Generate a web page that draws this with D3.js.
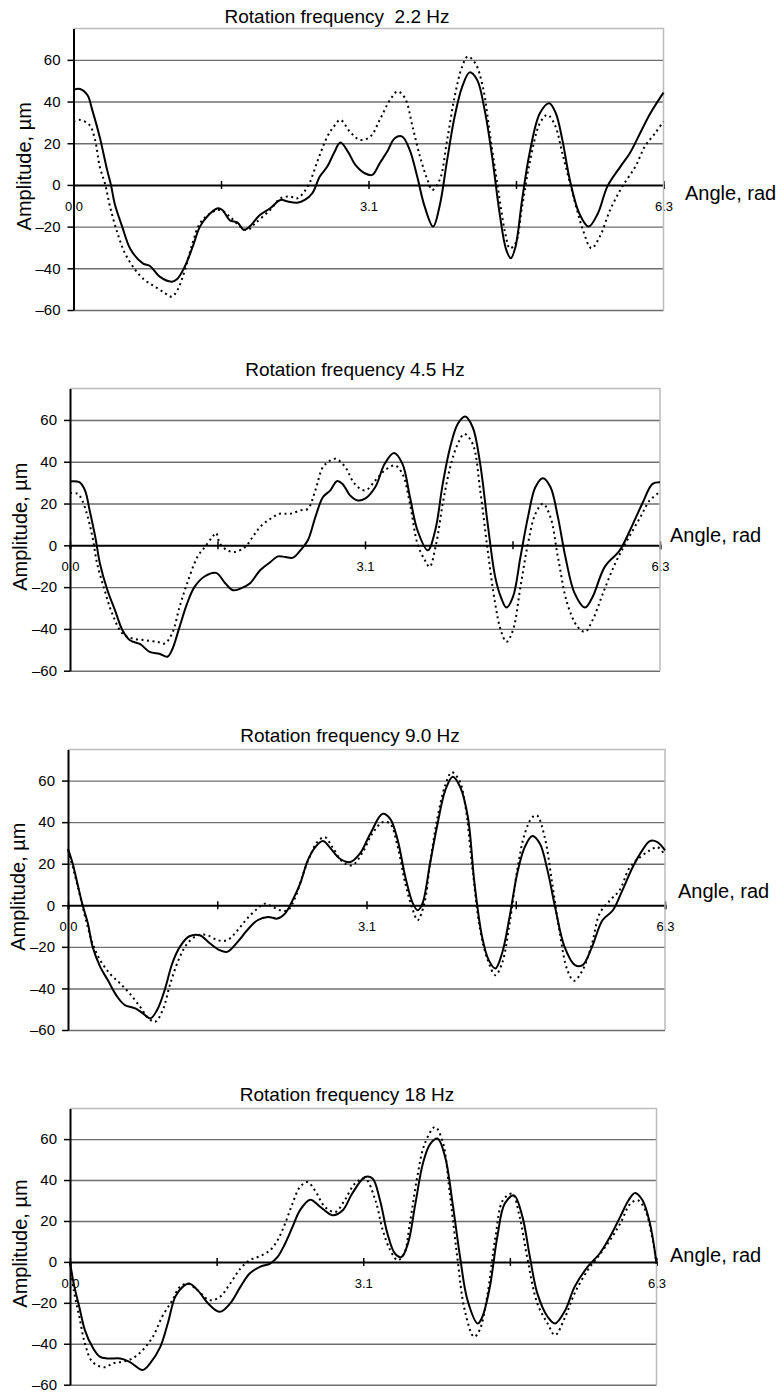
<!DOCTYPE html>
<html>
<head>
<meta charset="utf-8">
<script src="https://cdn.jsdelivr.net/npm/d3@7"></script>
<style>
  body { margin: 0; background: #fff; }
  svg { display: block; }
  text { font-family: "Liberation Sans", Arial, sans-serif; fill: #000; }
</style>
</head>
<body>
<svg id="chart" width="784" height="1393"></svg>
<script>
// [angle (rad), amplitude (um)], one solid and one dotted trace per panel
const solid22 = [[0.00,45.6],[0.07,46],[0.15,43],[0.20,36],[0.28,23],[0.36,7],[0.40,0],[0.44,-9],[0.52,-20],[0.61,-31],[0.74,-37.6],[0.82,-39],[0.92,-44],[1.05,-46.4],[1.11,-45],[1.19,-39],[1.27,-30],[1.35,-20],[1.43,-15],[1.54,-11.2],[1.59,-12],[1.67,-17],[1.75,-18],[1.82,-21.6],[1.88,-20],[1.99,-14.4],[2.10,-11.2],[2.21,-7.2],[2.29,-8],[2.39,-8.5],[2.47,-7.2],[2.55,-4],[2.63,4],[2.71,8.8],[2.78,15.2],[2.85,20.3],[2.93,16],[3.01,9.6],[3.11,5.6],[3.19,4.8],[3.27,10.4],[3.35,16],[3.43,22.4],[3.51,23.2],[3.59,16.8],[3.67,4],[3.75,-10.4],[3.84,-20],[3.91,-10],[3.99,12],[4.07,32.8],[4.15,47],[4.23,54],[4.31,50.4],[4.39,36],[4.47,13.6],[4.55,-13.6],[4.62,-31],[4.67,-35.2],[4.72,-29.6],[4.79,-7.2],[4.87,15.2],[4.98,34.4],[5.08,39.2],[5.15,34.4],[5.22,21.6],[5.30,2.4],[5.40,-13.6],[5.50,-20],[5.60,-13.6],[5.70,-0.8],[5.84,8.8],[5.94,15.2],[6.05,24.8],[6.16,34.4],[6.30,44.3]];
const dotted22 = [[0.00,30.4],[0.07,31.2],[0.17,28.8],[0.23,21.6],[0.28,8.8],[0.34,0],[0.39,-10.4],[0.47,-23.2],[0.55,-32.8],[0.66,-40.8],[0.76,-45.6],[0.87,-48.8],[0.98,-52],[1.05,-53.6],[1.11,-50.4],[1.19,-40.8],[1.27,-28],[1.35,-18.4],[1.46,-13.6],[1.56,-12],[1.67,-15.2],[1.78,-20],[1.86,-21.6],[1.94,-18.4],[2.10,-12],[2.21,-6.4],[2.31,-5.6],[2.39,-6.4],[2.50,-0.8],[2.61,12],[2.71,23.2],[2.78,28],[2.85,31.2],[2.95,25.6],[3.06,21.6],[3.17,23.2],[3.27,31.2],[3.38,40.8],[3.46,44.8],[3.54,41.6],[3.62,28],[3.70,13.6],[3.78,2.4],[3.83,-2.4],[3.91,2.4],[3.99,21.6],[4.07,42.4],[4.15,56.8],[4.21,61.6],[4.29,58.4],[4.37,47.2],[4.45,23.2],[4.53,-0.8],[4.61,-23.2],[4.66,-30.4],[4.72,-28],[4.79,-10.4],[4.87,10.4],[4.98,29.6],[5.06,33.6],[5.14,28.8],[5.22,15.2],[5.33,-4],[5.44,-21.6],[5.53,-30.4],[5.62,-24.8],[5.73,-12],[5.86,-0.8],[6.00,8.8],[6.10,18.4],[6.21,24.8],[6.30,30.4]];

const solid45 = [[0,30.6],[0.10,30.2],[0.16,26.3],[0.21,16.7],[0.27,4],[0.32,-8.8],[0.40,-21.5],[0.48,-31],[0.56,-40.6],[0.64,-45.4],[0.75,-47.3],[0.85,-51],[0.96,-52],[1.04,-53.3],[1.09,-50],[1.17,-39],[1.25,-27.9],[1.33,-19.9],[1.44,-14.8],[1.56,-13.2],[1.66,-18.3],[1.74,-21.5],[1.82,-20.7],[1.92,-18.3],[2.03,-11.9],[2.14,-8],[2.22,-5.3],[2.30,-5.6],[2.38,-5.9],[2.46,-2.4],[2.54,2.4],[2.62,13.5],[2.70,23],[2.78,26.3],[2.85,30.7],[2.91,29.4],[2.99,23.9],[3.07,21.5],[3.15,22.3],[3.26,27.9],[3.36,39],[3.46,44.2],[3.55,39],[3.63,23.1],[3.71,7.2],[3.82,-2.4],[3.90,7.2],[3.98,29.4],[4.06,47],[4.14,58.1],[4.22,61.6],[4.30,56.5],[4.38,39],[4.46,10.3],[4.54,-15.1],[4.60,-24.7],[4.66,-29.8],[4.73,-24.7],[4.81,-5.6],[4.89,13.5],[4.97,27.9],[5.05,32.1],[5.13,27.9],[5.21,13.5],[5.29,-5.6],[5.39,-23.1],[5.50,-29.8],[5.58,-24.7],[5.71,-10.3],[5.87,-2.4],[5.98,7.2],[6.11,19.9],[6.22,29.4],[6.30,30.2]];
const dotted45 = [[0,25],[0.08,24.7],[0.13,21.5],[0.19,13.5],[0.24,4],[0.29,-8.8],[0.37,-21.5],[0.45,-32.6],[0.56,-42.2],[0.67,-44.6],[0.80,-45.4],[0.93,-46.2],[1.01,-47],[1.09,-42.2],[1.17,-29.4],[1.25,-18.3],[1.36,-5.6],[1.44,-0.8],[1.52,4],[1.56,5.9],[1.60,0.8],[1.68,-2.4],[1.76,-3.2],[1.87,-0.8],[1.95,4],[2.03,8.8],[2.14,12.7],[2.24,15.1],[2.35,15.1],[2.46,16.7],[2.54,17.5],[2.62,26.3],[2.70,37.4],[2.78,40.6],[2.84,41.4],[2.94,37.4],[3.04,29.4],[3.15,26.3],[3.26,31],[3.36,35.8],[3.47,38.2],[3.55,34.2],[3.63,19.9],[3.71,0.8],[3.79,-7.2],[3.84,-10.3],[3.91,0.8],[3.98,19.9],[4.06,37.4],[4.14,48.5],[4.21,53.3],[4.30,48.5],[4.38,26.3],[4.46,-2.4],[4.54,-27.9],[4.60,-40.6],[4.66,-46.2],[4.73,-40.6],[4.81,-19.9],[4.89,0.8],[4.97,15.1],[5.05,19.9],[5.13,13.5],[5.21,-5.6],[5.31,-27.9],[5.42,-39],[5.50,-41.4],[5.58,-35.8],[5.69,-23.1],[5.82,-8.8],[5.95,2.4],[6.09,13.5],[6.19,21.5],[6.30,25.5]];

const solid90 = [[0,27.2],[0.05,20],[0.10,10.4],[0.15,0.8],[0.21,-8.8],[0.26,-20],[0.34,-29.6],[0.42,-36],[0.52,-44],[0.60,-48],[0.71,-49.6],[0.79,-52],[0.87,-54.4],[0.94,-50.4],[1.02,-40.8],[1.10,-28],[1.18,-20],[1.28,-14.9],[1.39,-14.4],[1.50,-18.4],[1.60,-21.6],[1.68,-22.4],[1.79,-17.6],[1.89,-12],[2.00,-7.2],[2.11,-5.6],[2.21,-6.4],[2.29,-4],[2.37,2.4],[2.45,10.4],[2.53,21.6],[2.61,28],[2.69,30.9],[2.76,28],[2.87,22.4],[2.98,20.8],[3.08,24.8],[3.19,34.4],[3.32,44],[3.40,41.6],[3.48,31.2],[3.56,13.6],[3.64,0.8],[3.69,-2.4],[3.74,0.8],[3.82,20],[3.90,39.2],[3.98,55.2],[4.06,61.9],[4.14,56.8],[4.22,42.4],[4.29,10.4],[4.37,-15.2],[4.44,-26.4],[4.51,-30.4],[4.58,-23.2],[4.66,-5.6],[4.74,15.2],[4.82,28],[4.90,33.3],[4.98,29.6],[5.06,16.8],[5.14,-0.8],[5.24,-20],[5.35,-28.8],[5.43,-28.8],[5.53,-20],[5.64,-7.2],[5.75,-2.4],[5.85,7.2],[5.96,18.4],[6.06,26.4],[6.14,30.9],[6.22,30.4],[6.30,26.4]];
const dotted90 = [[0,26.4],[0.06,16.8],[0.13,4],[0.19,-7.2],[0.26,-18.4],[0.34,-26.4],[0.44,-32.8],[0.55,-37.6],[0.65,-42.4],[0.76,-48.8],[0.85,-54.4],[0.92,-56],[1.00,-50.4],[1.08,-37.6],[1.18,-24.8],[1.26,-18.4],[1.37,-14.4],[1.47,-14.4],[1.58,-16.8],[1.68,-16.8],[1.79,-12],[1.89,-6.4],[2.00,-1.6],[2.08,0.8],[2.16,-0.8],[2.24,-2.4],[2.32,-2.4],[2.40,4],[2.47,13.6],[2.55,23.2],[2.63,30.4],[2.71,32.8],[2.79,28],[2.90,20.8],[3.00,19.2],[3.11,25.6],[3.21,34.4],[3.32,40],[3.40,39.2],[3.48,28],[3.56,10.4],[3.64,-2.4],[3.69,-7.2],[3.76,0.8],[3.82,20],[3.90,42.4],[3.98,57.6],[4.05,64],[4.13,60],[4.19,48.8],[4.27,16.8],[4.35,-12],[4.43,-26.4],[4.51,-33.6],[4.58,-28],[4.66,-8.8],[4.74,16.8],[4.82,34.4],[4.90,42.4],[4.95,43.2],[5.03,32.8],[5.11,10.4],[5.19,-13.6],[5.27,-31.2],[5.34,-36.3],[5.43,-31.2],[5.53,-18.4],[5.61,-4],[5.72,2.4],[5.82,7.2],[5.93,18.4],[6.04,23.2],[6.14,26.4],[6.22,28],[6.30,24]];

const solid18 = [[0,0],[0.04,-10.6],[0.10,-22],[0.16,-33.3],[0.24,-41.5],[0.32,-46.3],[0.40,-47.2],[0.54,-47.2],[0.64,-48.8],[0.78,-52.8],[0.86,-49.6],[0.97,-41.5],[1.05,-30.1],[1.13,-17.1],[1.21,-12.2],[1.28,-10.6],[1.37,-13.8],[1.50,-21.1],[1.61,-24.4],[1.72,-20.3],[1.83,-12.2],[1.93,-5.7],[2.04,-2.4],[2.15,-0.8],[2.23,2.4],[2.31,8.9],[2.39,17.1],[2.47,25.2],[2.58,30.4],[2.69,26.8],[2.82,22.8],[2.93,25.2],[3.03,33.3],[3.17,41.5],[3.25,40.7],[3.33,30.1],[3.41,13.8],[3.49,4.1],[3.56,2.4],[3.63,8.9],[3.71,28.5],[3.79,48],[3.87,57.7],[3.95,60.2],[4.03,51.2],[4.11,28.5],[4.19,2.4],[4.27,-18.7],[4.38,-30.1],[4.43,-26.8],[4.51,-12.2],[4.59,12.2],[4.67,28.5],[4.77,32.5],[4.86,22],[4.94,2.4],[5.02,-15.4],[5.13,-26.8],[5.21,-30.1],[5.32,-23.6],[5.42,-12.2],[5.56,-2.4],[5.69,4.1],[5.80,12.2],[5.91,22],[6.00,30.1],[6.07,33.7],[6.15,30.1],[6.23,18.7],[6.30,-0.8]];
const dotted18 = [[0,0],[0.04,-13.8],[0.10,-26.8],[0.16,-39.8],[0.24,-48.8],[0.37,-51.5],[0.46,-49.6],[0.56,-48.8],[0.67,-47.2],[0.78,-43.1],[0.89,-36.6],[0.99,-26.8],[1.10,-18.7],[1.18,-12.2],[1.26,-10.6],[1.37,-13.8],[1.50,-18.7],[1.61,-17.1],[1.72,-10.6],[1.83,-3.3],[1.93,0.8],[2.04,2.8],[2.15,5.7],[2.23,10.6],[2.31,18.7],[2.39,28.5],[2.47,36.6],[2.55,39],[2.63,35],[2.74,26.8],[2.85,24.4],[2.95,30.1],[3.06,38.2],[3.17,40.7],[3.28,30.1],[3.36,15.4],[3.44,5.7],[3.52,0.8],[3.59,4.1],[3.65,18.7],[3.73,41.5],[3.81,57.7],[3.92,65.9],[4.00,59.3],[4.08,33.3],[4.16,2.4],[4.24,-23.6],[4.34,-36.6],[4.40,-33.3],[4.48,-17.1],[4.57,12.2],[4.65,30.1],[4.75,33.3],[4.83,22],[4.91,2.4],[5.02,-20.3],[5.13,-30.1],[5.21,-35.8],[5.32,-26.8],[5.42,-15.4],[5.56,-4.1],[5.67,2.4],[5.80,10.6],[5.91,18.7],[6.02,28.5],[6.10,30.1],[6.18,25.2],[6.26,10.6],[6.30,-0.8]];

const titles = ["Rotation frequency  2.2 Hz", "Rotation frequency 4.5 Hz", "Rotation frequency 9.0 Hz", "Rotation frequency 18 Hz"];
const yTicks = [-60, -40, -20, 0, 20, 40, 60];
const xTicks = [0, 1.575, 3.15, 4.725, 6.3];
const xLabelled = [0, 3.15, 6.3];

// where each panel sits on the page
const frames = [
  { left: 73.5, right: 663.5, top: 28.6, bottom: 310,    titleX: 337, titleY: 23,   labelX: 685, labelY: 200 },
  { left: 70,   right: 660,   top: 388.6, bottom: 670.7, titleX: 355, titleY: 376,  labelX: 670, labelY: 542 },
  { left: 68,   right: 665,   top: 749.4, bottom: 1030,  titleX: 350, titleY: 742,  labelX: 678, labelY: 898 },
  { left: 70,   right: 656.5, top: 1108.4, bottom: 1384.7, titleX: 347, titleY: 1101, labelX: 670, labelY: 1262 }
];

const series = [[solid22, dotted22], [solid45, dotted45], [solid90, dotted90], [solid18, dotted18]];

const svg = d3.select("#chart");
svg.append("rect").attr("width", 784).attr("height", 1393).attr("fill", "#fff");

const fmtY = v => v < 0 ? "\u2013" + Math.abs(v) : String(v);
const fmtX = d3.format(".1f");

frames.forEach((f, i) => {
  const x = d3.scaleLinear().domain([0, 6.3]).range([f.left, f.right]);
  const y = d3.scaleLinear().domain([-60, 75]).range([f.bottom, f.top]);
  const g = svg.append("g");

  // horizontal grid
  g.append("g")
    .attr("transform", `translate(${f.left},0)`)
    .call(d3.axisLeft(y).tickValues(yTicks.filter(v => v !== 0)).tickSize(-(f.right - f.left)).tickFormat(""))
    .call(a => a.select(".domain").remove())
    .call(a => a.selectAll("line").attr("stroke", "#6e6e6e").attr("stroke-width", 1.4));

  // zero line with crossing ticks and angle labels
  const xa = g.append("g")
    .attr("transform", `translate(0,${y(0)})`)
    .call(d3.axisBottom(x).tickValues(xTicks).tickSizeOuter(0).tickSize(4)
      .tickFormat(v => xLabelled.includes(v) ? fmtX(v) : ""));
  xa.select(".domain").attr("stroke", "#000").attr("stroke-width", 2);
  xa.selectAll(".tick line").attr("y1", -4).attr("y2", 4).attr("stroke", "#000").attr("stroke-width", 1.5);
  xa.selectAll(".tick text").attr("y", 26).attr("dy", 0).attr("font-size", 13);

  // light frame on top and right
  g.append("path")
    .attr("d", `M${f.left},${f.top}H${f.right}V${f.bottom}`)
    .attr("fill", "none").attr("stroke", "#bcbcbc").attr("stroke-width", 1.5);

  const line = d3.line()
    .x(d => x(d[0]))
    .y(d => y(d[1]))
    .curve(d3.curveCatmullRom.alpha(0.5));

  const [solid, dotted] = series[i];
  g.append("path").datum(dotted)
    .attr("d", line).attr("fill", "none")
    .attr("stroke", "#000").attr("stroke-width", 2).attr("stroke-dasharray", "2,3.5");
  g.append("path").datum(solid)
    .attr("d", line).attr("fill", "none")
    .attr("stroke", "#000").attr("stroke-width", 2);

  // amplitude axis
  const ya = g.append("g")
    .attr("transform", `translate(${f.left},0)`)
    .call(d3.axisLeft(y).tickValues(yTicks).tickSize(6).tickSizeOuter(0).tickPadding(7).tickFormat(fmtY));
  ya.select(".domain").attr("stroke", "#000").attr("stroke-width", 2);
  ya.selectAll(".tick line").attr("stroke", "#000").attr("stroke-width", 1.5);
  ya.selectAll(".tick text").attr("font-size", 15);

  g.append("text")
    .attr("x", f.titleX).attr("y", f.titleY)
    .attr("text-anchor", "middle").attr("font-size", 19)
    .style("white-space", "pre")
    .text(titles[i]);

  g.append("text")
    .attr("x", f.labelX).attr("y", f.labelY)
    .attr("font-size", 20)
    .text("Angle, rad");

  g.append("text")
    .attr("transform", `translate(${f.left - 43},${(f.top + f.bottom) / 2 - 3}) rotate(-90)`)
    .attr("text-anchor", "middle").attr("font-size", 20)
    .text("Amplitude, \u00b5m");
});
</script>
</body>
</html>
